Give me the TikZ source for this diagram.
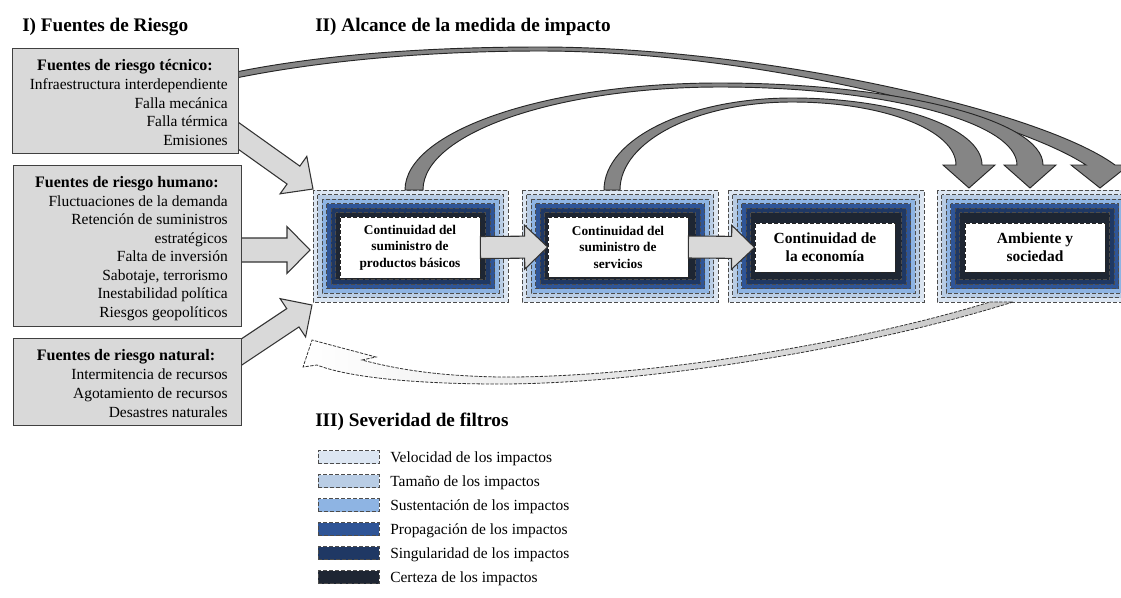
\documentclass[tikz,border=0pt]{standalone}
\usepackage{fontspec}
\setmainfont{Liberation Serif}
\usetikzlibrary{calc}
\definecolor{cA}{HTML}{DCE6F2}
\definecolor{cB}{HTML}{B9CDE5}
\definecolor{cC}{HTML}{8EB4E3}
\definecolor{cD}{HTML}{2F5597}
\definecolor{cE}{HTML}{1F3864}
\definecolor{cF}{HTML}{1E2633}
\definecolor{boxgray}{HTML}{D9D9D9}
\definecolor{edgegray}{HTML}{404040}
\newcommand\blkarrow[6]{%
  \coordinate (hb) at ($#3!#6!#2$);
  \filldraw[#1] ($#2!#4!90:#3$) -- ($(hb)!#4!90:#3$) -- ($(hb)!#5!90:#3$) -- #3
    -- ($(hb)!#5!-90:#3$) -- ($(hb)!#4!-90:#3$) -- ($#2!#4!-90:#3$) -- cycle;}
\newcommand\layerstack[4]{%
  \foreach \c [count=\i from 0] in {cA,cB,cC,cD,cE,cF}{%
    \filldraw[layer, fill=\c] ({#1+4.5*\i},{#2+4.5*\i}) rectangle ({#3-4.5*\i},{#4-4.5*\i});}}
\begin{document}
\begin{tikzpicture}[x=0.75pt,y=-0.75pt,
  ttl/.style={anchor=base west, inner sep=0, font=\bfseries\fontsize{14.4}{17}\selectfont},
  hdr/.style={anchor=base, inner sep=0, font=\bfseries\fontsize{12}{14}\selectfont},
  item/.style={anchor=base east, inner sep=0, font=\fontsize{11.6}{14}\selectfont},
  srcbox/.style={draw=edgegray, line width=1.1pt, fill=boxgray, inner sep=0, anchor=north west},
  layer/.style={draw=black!70, line width=0.55pt, dash pattern=on 3pt off 1.5pt},
  wbox/.style={draw=black!85, line width=0.6pt, dash pattern=on 3pt off 1.5pt, fill=white, align=center, inner sep=0},
  barrow/.style={fill=boxgray, draw=black!80, line width=0.8pt, line join=miter},
  carrow/.style={fill=black!48, draw=black!85, line width=0.7pt},
  fbarrow/.style={draw=black!80, line width=0.6pt, dash pattern=on 2.5pt off 1pt, left color=white, right color=black!22},
  swatch/.style={minimum width=45.75pt, minimum height=9.75pt, inner sep=0, draw=black!70, line width=0.55pt, dash pattern=on 3pt off 1.5pt},
  legtext/.style={anchor=base west, inner sep=0, font=\fontsize{11.6}{14}\selectfont}]
\useasboundingbox (0,0) rectangle (1121,597);

% titles
\node[ttl] (t1) at (22,31) {I) Fuentes de Riesgo};
\node[ttl] (t2) at (315,31) {II) Alcance de la medida de impacto};
\node[ttl] (t3) at (315,426) {III) Severidad de filtros};

% long curved arrow from technical sources
\filldraw[carrow] (236,72) .. controls (330,53) and (440,47) .. (540,47)
  .. controls (760,47) and (1040,110) .. (1115,165) -- (1129,165) -- (1100,188) -- (1071,165) -- (1086,165)
  .. controls (1015,118) and (760,51) .. (540,51)
  .. controls (440,51) and (330,59) .. (236,78) -- cycle;

% arrows from risk sources to first block
\coordinate (tecS) at (226,127); \coordinate (tecT) at (313,189);
\coordinate (humS) at (228,250); \coordinate (humT) at (310,250);
\coordinate (natS) at (228,361); \coordinate (natT) at (312,305);
\blkarrow{barrow}{(tecS)}{(tecT)}{8.25pt}{17.25pt}{18pt}
\blkarrow{barrow}{(humS)}{(humT)}{9pt}{17.6pt}{17.25pt}
\blkarrow{barrow}{(natS)}{(natT)}{8.25pt}{17.25pt}{17.25pt}

% risk source boxes
\node[srcbox, minimum width=169.5pt, minimum height=78.75pt] (tec) at (12,48) {};
\node[srcbox, minimum width=171pt, minimum height=120.75pt] (hum) at (13,165) {};
\node[srcbox, minimum width=171pt, minimum height=65.25pt] (nat) at (13,338) {};

\node[hdr] (tecH) at (125,70) {Fuentes de riesgo técnico:};
\node[item] (tec1) at (228,89) {Infraestructura interdependiente};
\node[item] (tec2) at (228,108) {Falla mecánica};
\node[item] (tec3) at (228,126) {Falla térmica};
\node[item] (tec4) at (228,145) {Emisiones};

\node[hdr] (humH) at (127,187) {Fuentes de riesgo humano:};
\node[item] (hum1) at (228,206) {Fluctuaciones de la demanda};
\node[item] (hum2) at (228,224) {Retención de suministros};
\node[item] (hum3) at (228,243) {estratégicos};
\node[item] (hum4) at (228,261) {Falta de inversión};
\node[item] (hum5) at (228,280) {Sabotaje, terrorismo};
\node[item] (hum6) at (228,298) {Inestabilidad política};
\node[item] (hum7) at (228,317) {Riesgos geopolíticos};

\node[hdr] (natH) at (126,360) {Fuentes de riesgo natural:};
\node[item] (nat1) at (228,379) {Intermitencia de recursos};
\node[item] (nat2) at (228,398) {Agotamiento de recursos};
\node[item] (nat3) at (228,417) {Desastres naturales};

% impact blocks
\layerstack{313}{190}{508}{302}
\layerstack{522}{190}{718}{302}
\layerstack{728}{190}{924}{302}
\begin{scope}
\clip (0,0) rectangle (1121,597);
\layerstack{937}{190}{1132}{302}
\end{scope}

\node[wbox, minimum width=105pt, minimum height=45.75pt, font=\bfseries\fontsize{10}{12.4}\selectfont] (b1) at (410,247.5) {Continuidad del\\suministro de\\productos básicos};
\node[wbox, minimum width=105pt, minimum height=45pt, font=\bfseries\fontsize{10}{12.4}\selectfont] (b2) at (618,247) {Continuidad del\\suministro de\\servicios};
\node[wbox, minimum width=105pt, minimum height=36.75pt, font=\bfseries\fontsize{11.6}{13.5}\selectfont] (b3) at (825,247.5) {Continuidad de\\la economía};
\node[wbox, minimum width=105pt, minimum height=36.75pt, font=\bfseries\fontsize{11.6}{13.5}\selectfont] (b4) at (1035,247.5) {Ambiente y\\sociedad};

% arrows between blocks
\blkarrow{barrow}{(b1.east)}{(b2.west)}{8.25pt}{16.5pt}{17.25pt}
\blkarrow{barrow}{(b2.east)}{(b3.west)}{8.25pt}{16.5pt}{17.25pt}

% curved arrows to environment block
\filldraw[carrow] (405,190) .. controls (405,131) and (546,83) .. (719,83)
  .. controls (898,83) and (1043,120) .. (1043,165) -- (1056,165) -- (1030,188) -- (1004,165) -- (1017,165)
  .. controls (1017,122) and (884,87) .. (720,87)
  .. controls (557,87) and (423,133) .. (423,190) -- cycle;
\filldraw[carrow] (604,190) .. controls (604,139) and (688,98) .. (792,98)
  .. controls (897,98) and (982,128) .. (982,165) -- (995,165) -- (969,188) -- (943,165) -- (956,165)
  .. controls (956,130) and (883,102) .. (792,102)
  .. controls (697,102) and (620,141) .. (620,190) -- cycle;

% feedback dashed arrow
\shadedraw[fbarrow] (1013,302) .. controls (860,350) and (640,384) .. (500,384)
  .. controls (420,384) and (350,378) .. (317,365) -- (303,367) -- (312,340) -- (376,357) -- (362,360)
  .. controls (400,370) and (440,376) .. (500,377)
  .. controls (640,378) and (850,345) .. (990,302) -- cycle;

% legend
\node[swatch, fill=cA] (s1) at (348.5,457) {};
\node[swatch, fill=cB] (s2) at (348.5,481) {};
\node[swatch, fill=cC] (s3) at (348.5,505) {};
\node[swatch, fill=cD] (s4) at (348.5,529) {};
\node[swatch, fill=cE] (s5) at (348.5,553) {};
\node[swatch, fill=cF] (s6) at (348.5,577) {};
\node[legtext] (l1) at (390,462) {Velocidad de los impactos};
\node[legtext] (l2) at (390,486) {Tamaño de los impactos};
\node[legtext] (l3) at (390,510) {Sustentación de los impactos};
\node[legtext] (l4) at (390,534) {Propagación de los impactos};
\node[legtext] (l5) at (390,558) {Singularidad de los impactos};
\node[legtext] (l6) at (390,582) {Certeza de los impactos};
\end{tikzpicture}
\end{document}
